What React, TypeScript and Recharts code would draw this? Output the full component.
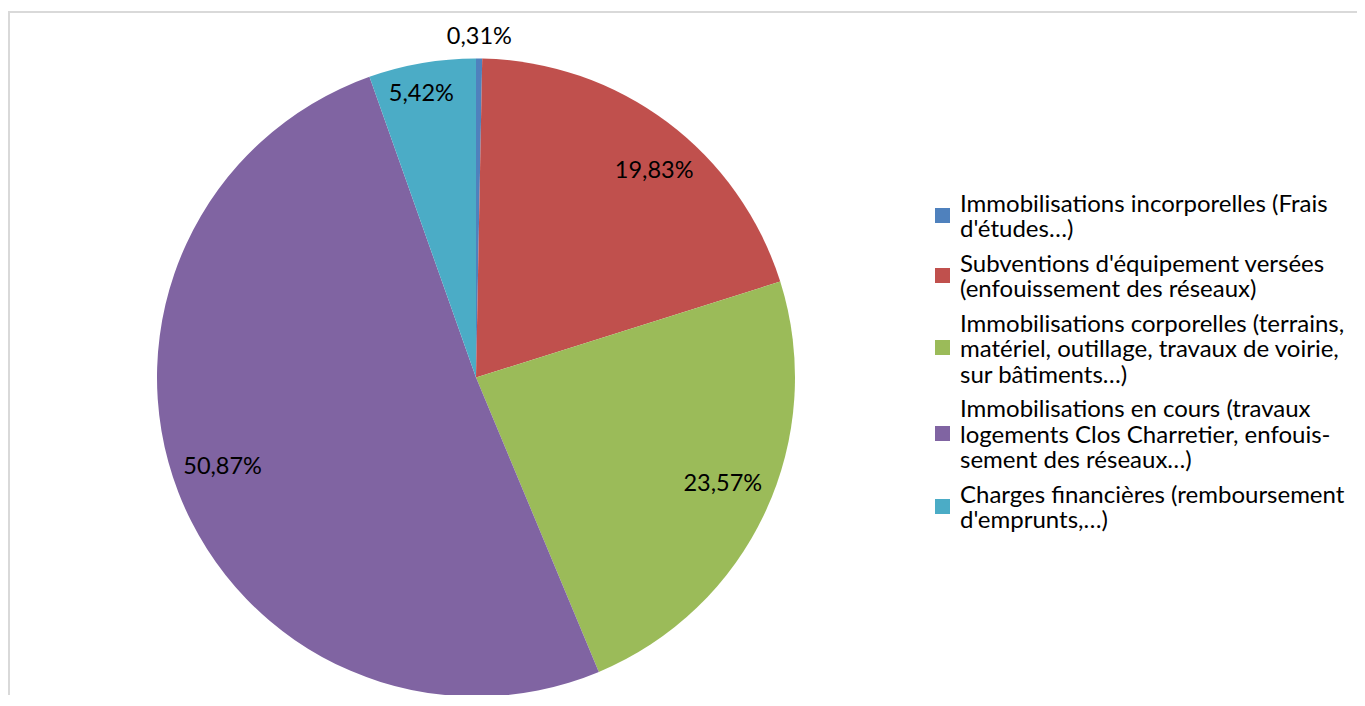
import { Cell, Legend, Pie, PieChart } from "recharts";

// Répartition des dépenses d'investissement
const CATEGORIES = [
  "Immobilisations incorporelles (Frais d'études...)",
  "Subventions d'équipement versées (enfouissement des réseaux)",
  "Immobilisations corporelles (terrains, matériel, outillage, travaux de voirie, sur bâtiments...)",
  "Immobilisations en cours (travaux logements Clos Charretier, enfouissement des réseaux...)",
  "Charges financières (remboursement d'emprunts,...)",
];
const SHARES = [0.31, 19.83, 23.57, 50.87, 5.42];
const SHARE_LABELS = ["0,31%", "19,83%", "23,57%", "50,87%", "5,42%"];
const LEGEND_LINES = [
  ["Immobilisations incorporelles (Frais", "d'études…)"],
  ["Subventions d'équipement versées", "(enfouissement des réseaux)"],
  ["Immobilisations corporelles (terrains,", "matériel, outillage, travaux de voirie,", "sur bâtiments…)"],
  ["Immobilisations en cours (travaux", "logements Clos Charretier, enfouis-", "sement des réseaux…)"],
  ["Charges financières (remboursement", "d'emprunts,…)"],
];

const COLORS = ["#4f81bd", "#c0504d", "#9bbb59", "#8064a2", "#4bacc6"];
const FONT = "Lato, 'Open Sans', sans-serif";

// Excel "best fit" placement: radius factor and clockwise angle nudge per slice
const LABEL_PLACE = [
  { r: 1.074, da: 0 },
  { r: 0.86, da: 3.7 },
  { r: 0.84, da: -2 },
  { r: 0.84, da: 2.1 },
  { r: 0.91, da: -1.1 },
];

const RADIAN = Math.PI / 180;

const data = CATEGORIES.map((name, i) => ({ name, value: SHARES[i], label: SHARE_LABELS[i] }));

function renderLabel(props: any) {
  const { cx, cy, midAngle, outerRadius, index } = props;
  const place = LABEL_PLACE[index];
  const angle = (midAngle - place.da) * RADIAN;
  const r = outerRadius * place.r;
  const x = cx + r * Math.cos(angle);
  const y = cy - r * Math.sin(angle);
  return (
    <text
      x={x}
      y={y}
      textAnchor="middle"
      dominantBaseline="central"
      fill="#000"
      fontFamily={FONT}
      fontSize={23.5}
    >
      {SHARE_LABELS[index]}
    </text>
  );
}

function renderLegend() {
  return (
    <div style={{ fontFamily: FONT, fontSize: 24, color: "#000", lineHeight: "25.5px" }}>
      {LEGEND_LINES.map((lines, i) => (
        <div key={i} style={{ display: "flex", alignItems: "center", marginBottom: 9 }}>
          <span
            style={{
              width: 15,
              height: 15,
              background: COLORS[i],
              marginRight: 10,
              flex: "none",
            }}
          />
          <div>
            {lines.map((line, j) => (
              <div key={j} style={{ whiteSpace: "nowrap" }}>
                {line}
              </div>
            ))}
          </div>
        </div>
      ))}
    </div>
  );
}

export default function App() {
  return (
    <div
      style={{
        position: "relative",
        top: 3,
        width: 1349,
        height: 687,
        boxSizing: "border-box",
        borderTop: "2px solid #d9d9d9",
        borderLeft: "2px solid #d9d9d9",
        background: "#fff",
      }}
    >
      <PieChart width={1347} height={685}>
        <Pie
          data={data}
          dataKey="value"
          nameKey="name"
          cx={461}
          cy={359.5}
          outerRadius={319}
          startAngle={90}
          endAngle={-270}
          stroke="none"
          label={renderLabel}
          labelLine={false}
          isAnimationActive={false}
        >
          {data.map((d, i) => (
            <Cell key={d.name} fill={COLORS[i]} />
          ))}
        </Pie>
        <Legend
          content={renderLegend}
          wrapperStyle={{ position: "absolute", left: 925, top: 176.5, width: "auto" }}
        />
      </PieChart>
    </div>
  );
}
